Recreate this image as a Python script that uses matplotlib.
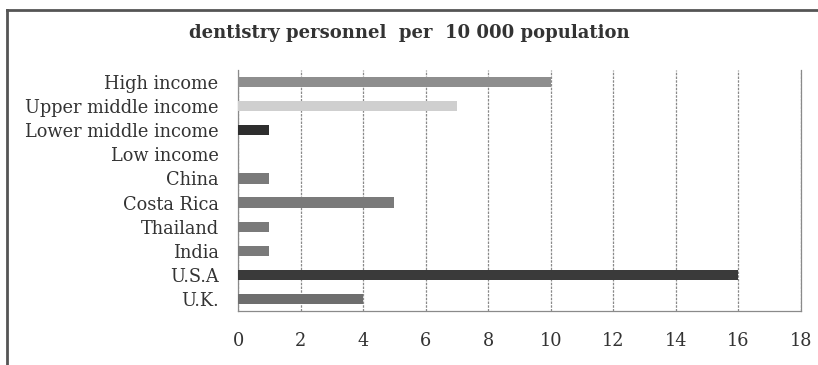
import numpy as np
import matplotlib.pyplot as plt
from matplotlib.lines import Line2D

categories = ['High income', 'Upper middle income', 'Lower middle income', 'Low income',
              'China', 'Costa Rica', 'Thailand', 'India', 'U.S.A', 'U.K.']
values = [10, 7, 1, 0, 1, 5, 1, 1, 16, 4]
colors = ['#8e8e8e', '#cfcfcf', '#2e2e2e', '#8e8e8e', '#7a7a7a',
          '#7a7a7a', '#7a7a7a', '#7a7a7a', '#3a3a3a', '#6e6e6e']
ticks = [0, 2, 4, 6, 8, 10, 12, 14, 16, 18]

plt.rcParams['font.family'] = 'DejaVu Serif'
text_color = '#333333'

fig = plt.figure(figsize=(8.18, 3.65), dpi=100)
ax = fig.add_axes([238/818, 1 - 311/365, (801 - 238)/818, (311 - 70)/365])

y = np.arange(len(categories))
ax.barh(y, values, height=0.42, color=colors, zorder=3)
ax.set_ylim(len(categories) - 0.5, -0.5)
ax.set_xlim(0, 18)
ax.set_yticks(y)
ax.set_yticklabels(categories, fontsize=12.8, color=text_color)
ax.set_xticks(ticks)
ax.set_xticklabels([str(t) for t in ticks], fontsize=12.8, color=text_color)
ax.tick_params(length=0)
ax.tick_params(axis='y', pad=14)
ax.tick_params(axis='x', pad=15)
ax.grid(axis='x', linestyle=(0, (2, 1)), color='#8a8a8a', linewidth=0.9, zorder=0)
for s in ax.spines.values():
    s.set_linestyle((0, (2, 1)))
    s.set_color('#8a8a8a')
    s.set_linewidth(0.9)
ax.spines['top'].set_visible(False)

fig.text(0.5, 1 - 33/365, 'dentistry personnel  per  10 000 population',
         ha='center', va='center', fontsize=13, fontweight='bold', color=text_color)

# outer frame, only the left and top edges fall inside the image
fig.add_artist(Line2D([7/818, 7/818], [0, 1 - 10/365], transform=fig.transFigure,
                      color='#555555', linewidth=2))
fig.add_artist(Line2D([7/818, 1], [1 - 10/365, 1 - 10/365], transform=fig.transFigure,
                      color='#555555', linewidth=2))

fig.savefig('out.png', dpi=100)
